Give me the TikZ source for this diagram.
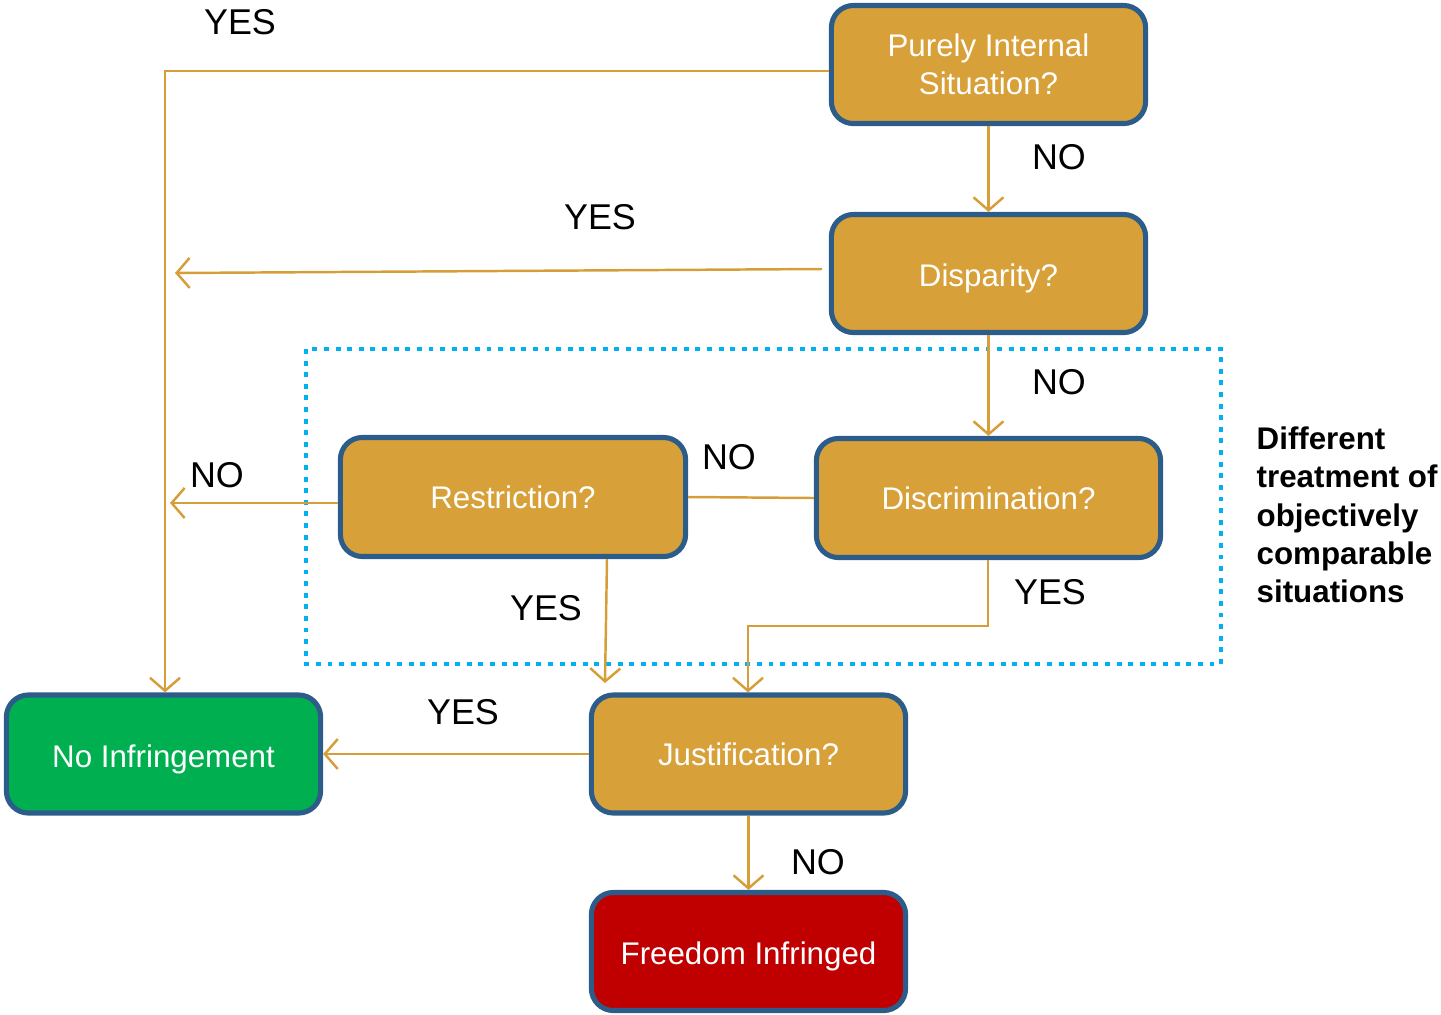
\documentclass[tikz,border=0pt]{standalone}
\usepackage{fontspec}
\setmainfont{Liberation Sans}
\usetikzlibrary{arrows.meta}
\definecolor{boxfill}{RGB}{215,160,57}
\definecolor{boxline}{RGB}{44,93,138}
\definecolor{conn}{RGB}{214,158,56}
\definecolor{okgreen}{RGB}{0,176,80}
\definecolor{badred}{RGB}{192,0,0}
\definecolor{dotblue}{RGB}{0,176,240}
\tikzset{
  qbox/.style={draw=boxline, line width=1.45pt, rounded corners=0.22cm, fill=boxfill,
    text=white, align=center, font=\fontsize{8.9pt}{10.8pt}\selectfont,
    minimum width=3.14cm, minimum height=1.18cm, inner sep=0pt},
  lowtext/.style={text height=9.4pt, text depth=1.9pt},
  conline/.style={draw=conn, line width=0.7pt},
  conarrow/.style={conline, -{Straight Barb[length=0.13cm, width=0.30cm, line width=0.7pt]}},
  lbl/.style={font=\fontsize{10.2pt}{12pt}\selectfont, inner sep=0pt}
}
\begin{document}
\begin{tikzpicture}[x=0.01cm, y=-0.01cm]
\useasboundingbox (0,0) rectangle (1441,1014);
% dotted frame
\draw[dotblue, line width=1.35pt, dash pattern=on 1.4pt off 1.9pt] (306,349) rectangle (1221,664);
% boxes
\node[qbox] (pis) at (988.5,64.5) {Purely Internal\\Situation?};
\node[qbox, lowtext] (disp) at (988.5,273.5) {Disparity?};
\node[qbox, minimum width=3.45cm, minimum height=1.19cm] (restr) at (513,497) {Restriction?};
\node[qbox, minimum width=3.44cm, minimum height=1.19cm] (discr) at (988.5,498) {Discrimination?};
\node[qbox, lowtext, fill=okgreen] (noinf) at (163.5,754) {No Infringement};
\node[qbox] (just) at (748.5,754) {Justification?};
\node[qbox, lowtext, fill=badred] (free) at (748.5,951.5) {Freedom Infringed};
% helper coordinates
\coordinate (c1) at (165,71);
\coordinate (dispstart) at (822,269);
\coordinate (disptip) at (175,273);
\coordinate (restrtip) at (170,503);
\coordinate (restrbot) at (607,559);
\coordinate (justtip1) at (605,683);
\coordinate (c2) at (988,626);
\coordinate (c3) at (748,626);
% connectors
\draw[conarrow] (pis.west |- c1) -- (c1) -- (c1 |- noinf.north);
\draw[conarrow] (pis.south) -- (disp.north);
\draw[conarrow] (dispstart) -- (disptip);
\draw[conarrow] (disp.south) -- (discr.north);
\draw[conarrow] (restr.west |- restrtip) -- (restrtip);
\draw[conline] (restr.east) -- (discr.west);
\draw[conarrow] (restrbot) -- (justtip1);
\draw[conarrow] (discr.south -| c2) -- (c2) -- (c3) -- (c3 |- just.north);
\draw[conarrow] (just.west) -- (noinf.east);
\draw[conarrow] (just.south) -- (free.north);
% labels
\node[lbl] (l1) at (240,22) {YES};
\node[lbl] (l2) at (1059,157) {NO};
\node[lbl] (l3) at (600,217) {YES};
\node[lbl] (l4) at (1059,382) {NO};
\node[lbl] (l5) at (217,475) {NO};
\node[lbl] (l6) at (729,457) {NO};
\node[lbl] (l7) at (546,608) {YES};
\node[lbl] (l8) at (1050,592) {YES};
\node[lbl] (l9) at (463,712) {YES};
\node[lbl] (l10) at (818,862) {NO};
\node[anchor=north west, align=left, inner sep=0pt, font=\bfseries\fontsize{8.9pt}{10.9pt}\selectfont] (side) at (1256,426) {Different\\treatment of\\objectively\\comparable\\situations};
\end{tikzpicture}
\end{document}
